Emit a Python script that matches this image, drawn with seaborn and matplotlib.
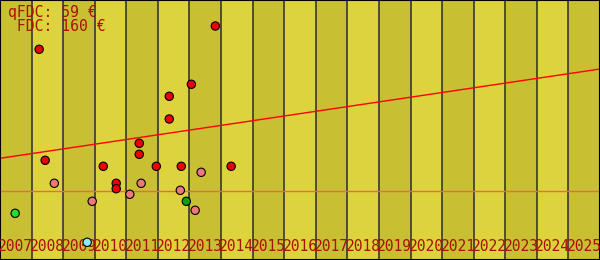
import matplotlib
matplotlib.use("Agg")
import matplotlib.pyplot as plt
import seaborn as sns
import pandas as pd

# ---- data ----
years = list(range(2007, 2026))

red_years = [2008.24, 2013.82, 2013.06, 2012.36, 2012.36, 2008.43, 2011.41, 2011.41,
             2010.27, 2011.95, 2012.74, 2014.32, 2010.68, 2010.68]
red_prices = [210.7, 234.0, 175.7, 163.7, 141.0, 99.7, 116.7, 105.7,
              93.7, 93.7, 93.7, 93.7, 76.7, 71.3]

pink_years = [2008.72, 2011.47, 2013.37, 2012.71, 2011.11, 2009.92, 2013.18]
pink_prices = [76.7, 76.7, 87.7, 69.7, 65.7, 58.7, 49.7]

lime_years = [2007.48]
lime_prices = [46.7]

green_years = [2012.90]
green_prices = [58.7]

cyan_years = [2009.76]
cyan_prices = [17.7]

ref_price = 68.7
trend_years = [2007, 2026]
trend_prices = [101.7, 191.0]

legend_lines = ["qFDC: 59 €", " FDC: 160 €"]

# ---- build frame ----
rows = []
for kind, xs, ys in [("red", red_years, red_prices), ("pink", pink_years, pink_prices),
                     ("lime", lime_years, lime_prices), ("green", green_years, green_prices),
                     ("cyan", cyan_years, cyan_prices)]:
    for x, y in zip(xs, ys):
        rows.append({"year": x, "price": y, "kind": kind})
df = pd.DataFrame(rows)

palette = {"red": "#ee0000", "pink": "#f07878", "lime": "#22e022",
           "green": "#10a010", "cyan": "#88eeff"}

sns.set_style("white")
plt.rcParams["font.family"] = ["DejaVu Sans Mono", "DejaVu Sans"]

fig = plt.figure(figsize=(6, 2.6), dpi=100)
ax = fig.add_axes([0, 0, 1, 1])

light = "#ddd33c"
dark = "#c9bf33"
for y in years:
    ax.axvspan(y, y + 1, color=dark if (y % 2 == 1) else light, lw=0, zorder=0)
    if y > years[0]:
        ax.axvline(y, color="#2a2a38", lw=1.1, zorder=1)

ax.axhline(ref_price, color="#ec6a4a", lw=1.0, zorder=2)
sns.lineplot(x=trend_years, y=trend_prices, color="#ff0000", lw=1.0, ax=ax, zorder=2)

text_color = "#a81200"
for y in years:
    ax.text(y + 0.5, 9, str(y), ha="center", va="baseline", fontsize=10.5,
            color=text_color, zorder=3)

sns.scatterplot(data=df, x="year", y="price", hue="kind", palette=palette, s=36,
                edgecolor="black", linewidth=0.8, legend=False, ax=ax, zorder=4)

ax.text(2007 + 8 / 31.58, 260 - 17.3, legend_lines[0], ha="left", va="baseline",
        fontsize=10.6, color=text_color, zorder=5)
ax.text(2007 + 8 / 31.58, 260 - 31.0, legend_lines[1], ha="left", va="baseline",
        fontsize=10.6, color=text_color, zorder=5)

ax.set_xlim(2007, 2026)
ax.set_ylim(0, 260)
ax.set_xticks([])
ax.set_yticks([])
ax.set_xlabel("")
ax.set_ylabel("")
for sp in ax.spines.values():
    sp.set_visible(True)
    sp.set_color("black")
    sp.set_linewidth(1.5)

fig.savefig("out.png", dpi=100)
